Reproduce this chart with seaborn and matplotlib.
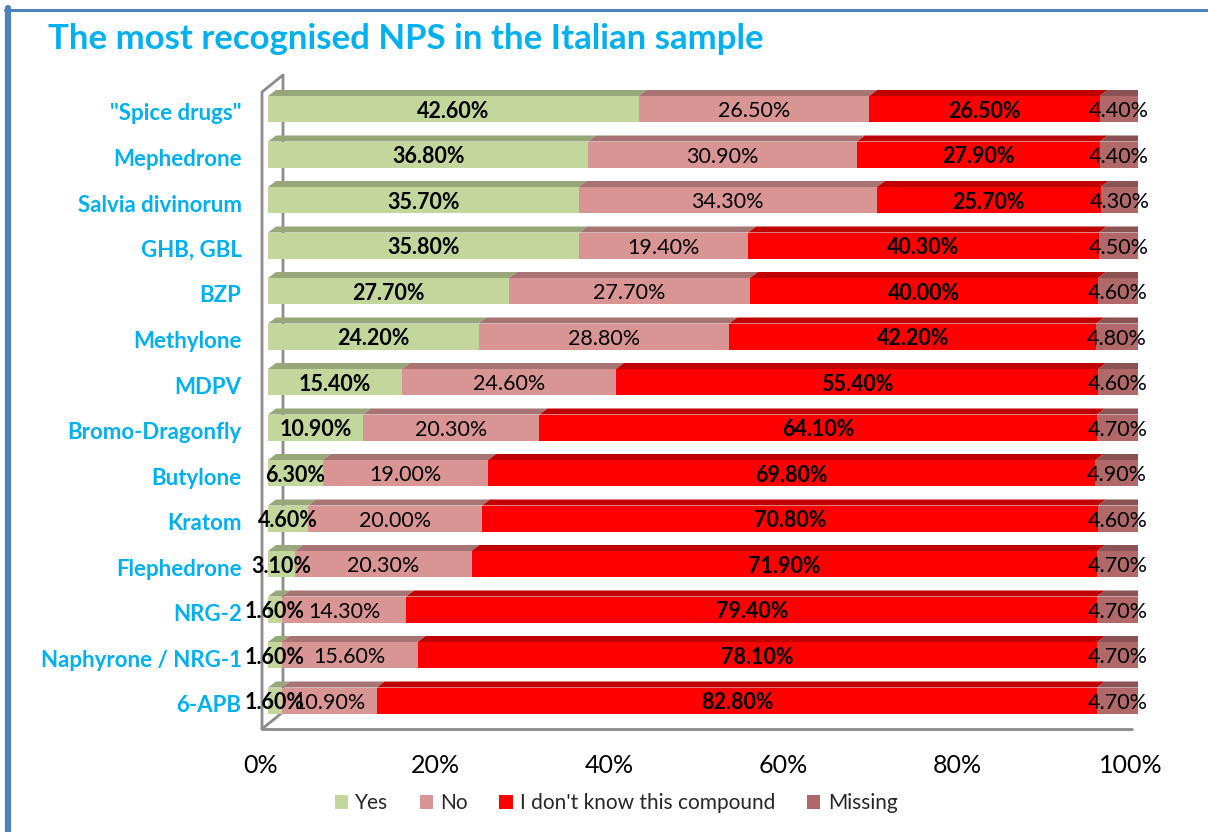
import numpy as np
import pandas as pd
import matplotlib
matplotlib.use("Agg")
import matplotlib.pyplot as plt
import matplotlib.transforms as mtransforms
from matplotlib.patches import Polygon, Patch
from matplotlib.lines import Line2D
import seaborn as sns

categories = ['"Spice drugs"', "Mephedrone", "Salvia divinorum", "GHB, GBL", "BZP",
              "Methylone", "MDPV", "Bromo-Dragonfly", "Butylone", "Kratom",
              "Flephedrone", "NRG-2", "Naphyrone / NRG-1", "6-APB"]
yes_vals = [42.6, 36.8, 35.7, 35.8, 27.7, 24.2, 15.4, 10.9, 6.3, 4.6, 3.1, 1.6, 1.6, 1.6]
no_vals = [26.5, 30.9, 34.3, 19.4, 27.7, 28.8, 24.6, 20.3, 19.0, 20.0, 20.3, 14.3, 15.6, 10.9]
dk_vals = [26.5, 27.9, 25.7, 40.3, 40.0, 42.2, 55.4, 64.1, 69.8, 70.8, 71.9, 79.4, 78.1, 82.8]
missing_vals = [4.4, 4.4, 4.3, 4.5, 4.6, 4.8, 4.6, 4.7, 4.9, 4.6, 4.7, 4.7, 4.7, 4.7]
series_names = ["Yes", "No", "I don't know this compound", "Missing"]
x_ticks = [0, 20, 40, 60, 80, 100]
title = "The most recognised NPS in the Italian sample"

front_cols = ["#C3D69B", "#D99594", "#FF0000", "#B06868"]
top_cols = ["#98A77A", "#A87473", "#C00000", "#8A5252"]
label_weights = ["bold", "normal", "bold", "normal"]

FONT = ["Lato", "DejaVu Sans"]
sns.set_theme(style="white")
plt.rcParams["font.family"] = FONT

W, H = 1208, 832
fig = plt.figure(figsize=(W / 100, H / 100), dpi=100)

# axes placement (pixels)
px_left, px_right = 268, 1138
row0, pitch = 109, 45.5
floor_px = 729
d_top = -1.0
d_bot = (floor_px - row0) / pitch
top_px = row0 + d_top * pitch
ax = fig.add_axes([px_left / W, 1 - floor_px / H, (px_right - px_left) / W, (floor_px - top_px) / H])

series = [np.array(yes_vals), np.array(no_vals), np.array(dk_vals), np.array(missing_vals)]
cums = np.cumsum(np.vstack(series), axis=0) / 100.0
starts = np.vstack([np.zeros(len(categories)), cums[:-1]])

bar_h = 26 / pitch
df = pd.DataFrame({"cat": categories})
for k in range(3, -1, -1):
    df["v"] = cums[k]
    sns.barplot(data=df, x="v", y="cat", orient="h", color=front_cols[k], width=bar_h,
                saturation=1, ax=ax, linewidth=0, zorder=3)

# 3D faces
dx = 8 / (px_right - px_left)
dy = 6 / pitch
for i in range(len(categories)):
    top = i - bar_h / 2
    for k in range(4):
        x0, x1 = starts[k][i], cums[k][i]
        poly = Polygon([(x0, top), (x0 + dx, top - dy), (x1 + dx, top - dy), (x1, top)],
                       closed=True, facecolor=top_cols[k], edgecolor="none", zorder=2)
        ax.add_patch(poly)
    x1 = cums[3][i]
    side = Polygon([(x1, top + bar_h), (x1, top), (x1 + dx, top - dy), (x1 + dx, top + bar_h - dy)],
                   closed=True, facecolor=top_cols[3], edgecolor="none", zorder=4)
    ax.add_patch(side)
    # value labels
    for k in range(4):
        xc = (starts[k][i] + cums[k][i]) / 2
        ax.text(xc, i + 0.05, f"{series[k][i]:.2f}%", ha="center", va="center",
                fontsize=15.5, fontweight=label_weights[k], color="black", zorder=6)

ax.set_xlim(0, 1)
ax.set_ylim(d_bot, d_top)
for s in ax.spines.values():
    s.set_visible(False)
ax.set_xlabel("")
ax.set_ylabel("")
ax.set_xticks([t / 100 for t in x_ticks])
ax.set_xticklabels([f"{t}%" for t in x_ticks], fontsize=18, color="black")
ax.tick_params(axis="x", length=0, pad=18)
ax.tick_params(axis="y", length=0, pad=19)
shift = mtransforms.ScaledTranslation(-7 / 100, 0, fig.dpi_scale_trans)
for lab in ax.get_xticklabels():
    lab.set_transform(lab.get_transform() + shift)
yshift = mtransforms.ScaledTranslation(0, -3 / 100, fig.dpi_scale_trans)
for lab in ax.get_yticklabels():
    lab.set_color("#00B0F0")
    lab.set_fontweight("bold")
    lab.set_fontsize(16)
    lab.set_transform(lab.get_transform() + yshift)

# wall / floor lines
grey = "#8C8C8C"
def px2d(xp, yp):
    return (xp - px_left) / (px_right - px_left), (yp - row0) / pitch
wall = [px2d(262, floor_px), px2d(262, 92), px2d(283, 75), px2d(283, 712), px2d(262, floor_px)]
ax.add_line(Line2D([p[0] for p in wall], [p[1] for p in wall], color=grey, lw=2,
                   clip_on=False, zorder=1))
f0, f1 = px2d(262, floor_px), px2d(1132, floor_px)
ax.add_line(Line2D([f0[0], f1[0]], [f0[1], f1[1]], color=grey, lw=2, clip_on=False, zorder=1))

# title
fig.text(48 / W, 1 - 49 / H, title, color="#00B0F0", fontsize=25, fontweight="bold",
         ha="left", va="baseline")

# border
fig.add_artist(Line2D([8 / W, 8 / W], [0, 1 - 8 / H], color="#4F81BD", lw=4.5,
                      transform=fig.transFigure))
fig.add_artist(Line2D([5 / W, 1], [1 - 9.5 / H, 1 - 9.5 / H], color="#4F81BD", lw=2.2,
                      transform=fig.transFigure))

handles = [Patch(facecolor=c, edgecolor="none") for c in front_cols]
fig.legend(handles, series_names, loc="center", bbox_to_anchor=(616 / W, 1 - 803 / H),
           ncol=4, frameon=False, fontsize=15, handlelength=0.65, handleheight=0.65,
           handletextpad=0.35, columnspacing=1.5)

fig.savefig("out.png", dpi=100)
